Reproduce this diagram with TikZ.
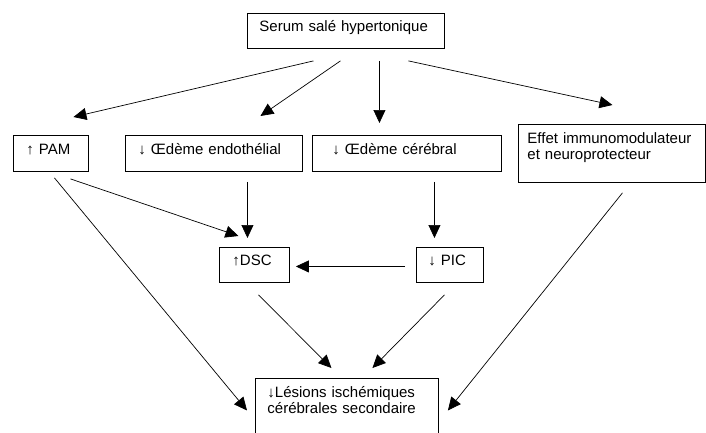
\documentclass[tikz,border=0pt]{standalone}
\usepackage{fontspec}
\setmainfont{Liberation Sans}
\usepackage{tikz}
\usetikzlibrary{arrows.meta}

\tikzset{
  boite/.style={draw, line width=0.9pt, anchor=north west, align=left, inner ysep=0pt,
    text height=11pt, text depth=9pt, font=\fontsize{15}{16}\selectfont},
  fleche/.style={-{Triangle[length=13pt,width=12pt]}, line width=0.7pt}
}

\begin{document}
\begin{tikzpicture}[x=1pt, y=-1pt]
\useasboundingbox (0,0) rectangle (706,432);
\clip (0,0) rectangle (706,432);

\node[boite, inner xsep=12pt, text width=173pt, minimum height=35pt] (serum) at (247,13) {Serum salé hypertonique};
\node[boite, inner xsep=13pt, text width=49pt, minimum height=36pt] (pam) at (13,135) {↑ PAM};
\node[boite, inner xsep=13pt, text width=151pt, minimum height=36pt] (endo) at (125,135) {↓ Œdème endothélial};
\node[boite, inner xsep=20pt, text width=149pt, minimum height=36pt] (cereb) at (312,135) {↓ Œdème cérébral};
\node[boite, inner xsep=9pt, inner ysep=9pt, text width=169pt, text height=10pt, text depth=30pt] (effet) at (518,124) {Effet immunomodulateur\\et neuroprotecteur};
\node[boite, inner xsep=13pt, text width=44pt, minimum height=35pt] (dsc) at (219,247) {↑DSC};
\node[boite, inner xsep=12pt, text width=43pt, minimum height=35pt] (pic) at (416,247) {↓ PIC};
\node[boite, inner xsep=12pt, inner ysep=4pt, text width=159pt, text height=15pt, text depth=59pt] (lesions) at (255,378) {↓Lésions ischémiques\\cérébrales secondaire};

\draw[fleche] ([shift={(-32.5,12)}]serum.south) -- ([shift={(22.5,-18)}]pam.north);
\draw[fleche] ([shift={(-5.5,12)}]serum.south) -- ([shift={(46.5,-19)}]endo.north);
\draw[fleche] ([shift={(33.5,12)}]serum.south) -- ([shift={(-27.5,-12)}]cereb.north);
\draw[fleche] ([shift={(62.5,12)}]serum.south) -- ([shift={(0.5,-19)}]effet.north);

\draw[fleche] ([shift={(3.5,6)}]pam.south) -- ([shift={(-8,-9)}]lesions.west);
\draw[fleche] ([shift={(19.5,7)}]pam.south) -- ([shift={(-16,-11)}]dsc.north);
\draw[fleche] ([shift={(33.5,10)}]endo.south) -- ([shift={(-7,-9)}]dsc.north);
\draw[fleche] ([shift={(27.5,10)}]cereb.south) -- ([shift={(-15.5,-9)}]pic.north);
\draw[fleche] ([shift={(-11,1.5)}]pic.west) -- ([shift={(6,1.5)}]dsc.east);
\draw[fleche] ([shift={(4,12)}]dsc.south) -- ([shift={(-15.5,-10)}]lesions.north);
\draw[fleche] ([shift={(-5.5,12)}]pic.south) -- ([shift={(25.5,-10)}]lesions.north);
\draw[fleche] ([shift={(10.5,10)}]effet.south) -- ([shift={(9,-9)}]lesions.east);
\end{tikzpicture}
\end{document}
